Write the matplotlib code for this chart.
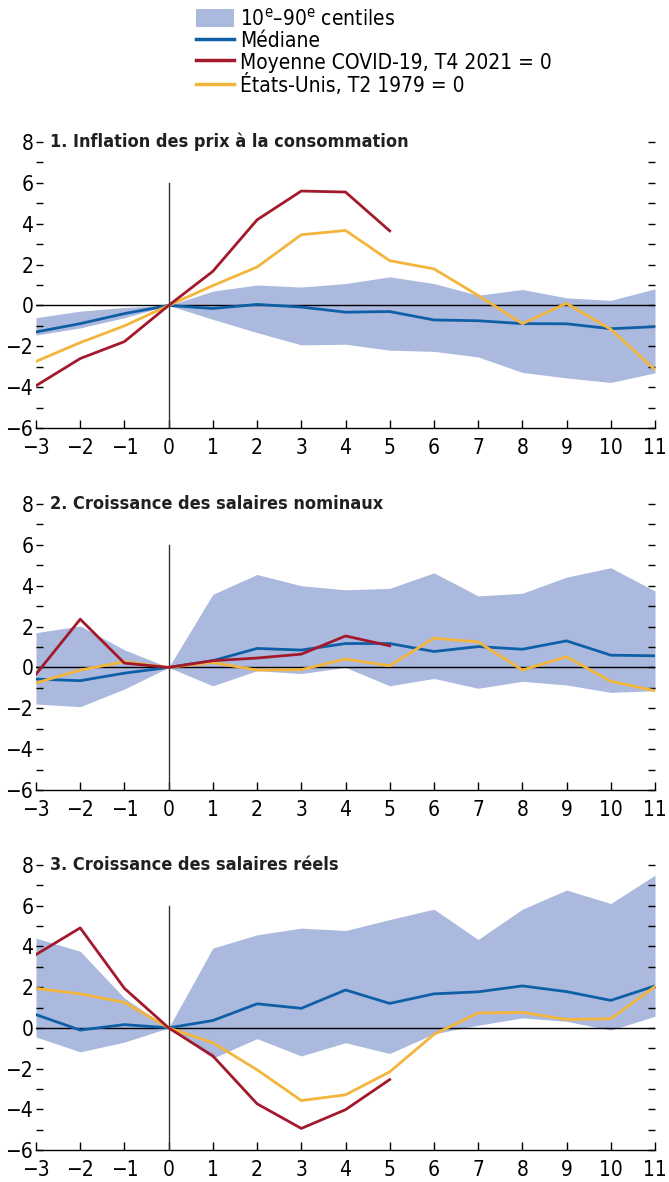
import numpy as np
import matplotlib
matplotlib.use("Agg")
import matplotlib.pyplot as plt
from matplotlib import font_manager
from matplotlib.patches import Patch
from matplotlib.lines import Line2D

# condensed face of DejaVu if the system has it
cond = [f for f in font_manager.fontManager.ttflist
        if f.name == "DejaVu Sans" and "ondensed" in f.fname]
plt.rcParams["font.family"] = ["DejaVu Sans"]
if cond:
    plt.rcParams["font.stretch"] = "condensed"
plt.rcParams["mathtext.fontset"] = "custom"
plt.rcParams["mathtext.rm"] = "DejaVu Sans"

quarters = list(range(-3, 12))
covid_q = list(range(-3, 6))

titles = ["1. Inflation des prix à la consommation",
          "2. Croissance des salaires nominaux",
          "3. Croissance des salaires réels"]

# panel 1 : inflation
p1_hi = [-0.6, -0.28, -0.1, 0, 0.7, 1.0, 0.9, 1.07, 1.4, 1.07, 0.5, 0.78, 0.37, 0.25, 0.81]
p1_lo = [-1.45, -1.1, -0.6, 0, -0.68, -1.33, -1.93, -1.9, -2.19, -2.25, -2.52, -3.28, -3.55, -3.77, -3.3]
p1_med = [-1.3, -0.89, -0.4, 0, -0.15, 0.05, -0.08, -0.33, -0.3, -0.71, -0.75, -0.89, -0.9, -1.14, -1.04]
p1_covid = [-3.93, -2.6, -1.77, 0, 1.67, 4.19, 5.6, 5.55, 3.65]
p1_us = [-2.74, -1.82, -1.0, 0, 0.97, 1.88, 3.46, 3.67, 2.19, 1.79, 0.49, -0.89, 0.1, -1.17, -3.15]

# panel 2 : salaires nominaux
p2_hi = [1.7, 2.03, 0.86, 0, 3.58, 4.55, 4.0, 3.8, 3.87, 4.63, 3.5, 3.63, 4.42, 4.88, 3.74]
p2_lo = [-1.79, -1.92, -1.06, 0, -0.9, -0.16, -0.3, 0.0, -0.9, -0.54, -1.02, -0.68, -0.86, -1.22, -1.14]
p2_med = [-0.57, -0.65, -0.28, 0, 0.33, 0.93, 0.85, 1.17, 1.17, 0.78, 1.02, 0.89, 1.3, 0.6, 0.57]
p2_covid = [-0.33, 2.36, 0.21, 0, 0.33, 0.46, 0.65, 1.54, 1.06]
p2_us = [-0.76, -0.13, 0.28, 0, 0.24, -0.13, -0.11, 0.41, 0.08, 1.43, 1.25, -0.13, 0.52, -0.68, -1.14]

# panel 3 : salaires reels
p3_hi = [4.41, 3.76, 1.46, 0, 3.92, 4.57, 4.9, 4.78, 5.32, 5.83, 4.34, 5.83, 6.77, 6.11, 7.5]
p3_lo = [-0.45, -1.18, -0.7, 0, -1.49, -0.53, -1.38, -0.73, -1.26, -0.29, 0.13, 0.49, 0.32, -0.11, 0.57]
p3_med = [0.65, -0.11, 0.16, 0, 0.36, 1.18, 0.96, 1.86, 1.2, 1.67, 1.77, 2.06, 1.78, 1.35, 2.06]
p3_covid = [3.6, 4.91, 1.94, 0, -1.38, -3.73, -4.94, -4.02, -2.54]
p3_us = [1.94, 1.67, 1.25, 0, -0.73, -2.06, -3.57, -3.29, -2.16, -0.32, 0.73, 0.76, 0.41, 0.45, 2.03]

panels = [(p1_hi, p1_lo, p1_med, p1_covid, p1_us),
          (p2_hi, p2_lo, p2_med, p2_covid, p2_us),
          (p3_hi, p3_lo, p3_med, p3_covid, p3_us)]

BAND = "#aab9dd"
MED = "#0f5fa6"
RED = "#a3192c"
GOLD = "#f3b53c"

W, H = 669, 1182
fig = plt.figure(figsize=(W / 100, H / 100), dpi=100)

# axes boxes in pixels: (top of y=8, bottom of y=-6)
rows = [(142, 428), (504, 790), (865, 1150)]
left_px, right_px = 36, 655

for (top, bot), title, (hi, lo, med, cov, us) in zip(rows, titles, panels):
    ax = fig.add_axes([left_px / W, 1 - bot / H, (right_px - left_px) / W, (bot - top) / H])
    ax.fill_between(quarters, lo, hi, color=BAND, lw=0, zorder=1)
    ax.axhline(0, color="black", lw=1, zorder=2)
    ax.plot([0, 0], [-6, 6], color="#333333", lw=1, zorder=2)
    ax.plot(quarters, med, color=MED, lw=2, zorder=3)
    ax.plot(quarters, us, color=GOLD, lw=2, zorder=4)
    ax.plot(covid_q, cov, color=RED, lw=2, zorder=5)

    ax.set_xlim(-3, 11)
    ax.set_ylim(-6, 8)
    ax.set_xticks(quarters)
    ax.set_yticks(range(-6, 9, 2))
    ax.set_yticks(range(-5, 8, 2), minor=True)
    for s in ["left", "right", "top"]:
        ax.spines[s].set_visible(False)
    ax.spines["bottom"].set_linewidth(1)
    ax.tick_params(axis="x", direction="in", length=6, width=1, labelsize=15, pad=7)
    ax.tick_params(axis="y", which="both", direction="in", length=5, width=1,
                   left=True, right=True, labelsize=15, pad=2)
    ax.text(0.023, 1.0, title, transform=ax.transAxes, ha="left", va="center",
            fontsize=13, fontweight="bold", color="#231f20")

handles = [Patch(facecolor=BAND, edgecolor="none"),
           Line2D([], [], color=MED, lw=2.5),
           Line2D([], [], color=RED, lw=2.5),
           Line2D([], [], color=GOLD, lw=2.5)]
labels = ["10$^{\\mathrm{e}}$–90$^{\\mathrm{e}}$ centiles", "Médiane",
          "Moyenne COVID-19, T4 2021 = 0", "États-Unis, T2 1979 = 0"]
fig.legend(handles, labels, loc="upper left", bbox_to_anchor=(192 / W, 1 - 3 / H),
           frameon=False, fontsize=15, handlelength=1.8, handleheight=1.0,
           handletextpad=0.3, labelspacing=0.06, borderaxespad=0, borderpad=0.2)

fig.savefig("out.png", dpi=100)
